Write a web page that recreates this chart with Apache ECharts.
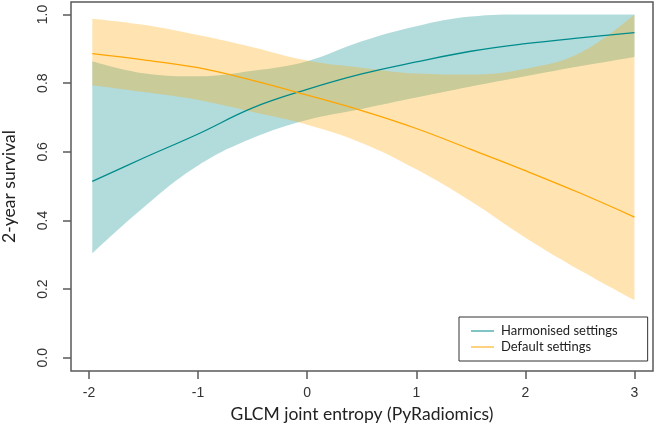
<!DOCTYPE html>
<html>
<head>
<meta charset="utf-8">
<script src="https://cdn.jsdelivr.net/npm/echarts@6/dist/echarts.min.js"></script>
<style>
html,body{margin:0;padding:0;background:#fff;}
#chart{width:657px;height:440px;}
</style>
</head>
<body>
<div id="chart"></div>
<script>
// ---- data ----
var xs = [-1.97, -1.5, -1, -0.5, 0, 0.5, 1, 1.5, 2, 2.5, 3];
var harmFit = [0.514, 0.582, 0.652, 0.728, 0.782, 0.827, 0.862, 0.893, 0.915, 0.932, 0.947];
var harmLow = [0.304, 0.438, 0.560, 0.640, 0.693, 0.725, 0.758, 0.790, 0.820, 0.849, 0.876];
var harmUp  = [0.864, 0.829, 0.820, 0.836, 0.864, 0.922, 0.966, 0.994, 1.000, 1.000, 1.000];
var defFit  = [0.886, 0.868, 0.845, 0.808, 0.765, 0.720, 0.668, 0.607, 0.545, 0.480, 0.410];
var defLow  = [0.794, 0.774, 0.751, 0.716, 0.679, 0.626, 0.549, 0.456, 0.350, 0.255, 0.168];
var defUp   = [0.988, 0.970, 0.940, 0.905, 0.866, 0.845, 0.828, 0.825, 0.842, 0.888, 1.000];
var xTicks = [-2, -1, 0, 1, 2, 3];
var xTickLabels = ['-2', '-1', '0', '1', '2', '3'];
var yTicks = [0, 0.2, 0.4, 0.6, 0.8, 1.0];
var yTickLabels = ['0.0', '0.2', '0.4', '0.6', '0.8', '1.0'];
var seriesNames = ['Harmonised settings', 'Default settings'];

// rows are [y, x] so that stacking happens on the y value (encode maps them back)
function rows(ys) { return xs.map(function (x, i) { return [ys[i], x]; }); }
function diffRows(up, low) { return xs.map(function (x, i) { return [+(up[i] - low[i]).toFixed(4), x]; }); }
function labelFor(ticks, labels) {
  return function (v) {
    for (var i = 0; i < ticks.length; i++) if (Math.abs(ticks[i] - v) < 1e-6) return labels[i];
    return '';
  };
}

var TEAL = '#008b8b', ORANGE = '#ffa500';
var SM = 0.4;
var ENC = {x: 1, y: 0};

var chart = echarts.init(document.getElementById('chart'), null, {renderer: 'canvas'});
chart.setOption({
  animation: false,
  backgroundColor: '#ffffff',
  grid: {left: 71, right: 4, top: 2, bottom: 69, containLabel: false, outerBoundsMode: 'none',
         show: true, borderColor: '#5a5a5a', borderWidth: 1.5, backgroundColor: 'transparent'},
  legend: {
    data: seriesNames,
    orient: 'vertical',
    left: 459, top: 317,
    padding: [7, 30, 7, 12],
    itemGap: 2,
    itemWidth: 23, itemHeight: 14,
    borderColor: '#333', borderWidth: 1,
    backgroundColor: '#fff',
    textStyle: {fontFamily: 'Lato', fontSize: 13, color: '#222', lineHeight: 14, padding: [0, 0, 0, 2]},
    icon: 'path://M0,7 L23,7 L23,8 L0,8 Z'
  },
  xAxis: {
    type: 'value', min: -2.165, max: 3.17,
    name: 'GLCM joint entropy (PyRadiomics)', nameLocation: 'middle', nameGap: 32,
    nameTextStyle: {fontFamily: 'Lato', fontSize: 17.5, color: '#222'},
    axisLine: {show: false, onZero: false},
    axisTick: {show: true, length: 8, customValues: xTicks, lineStyle: {color: '#5a5a5a', width: 1.5}},
    axisLabel: {customValues: xTicks, formatter: labelFor(xTicks, xTickLabels), margin: 15, fontFamily: 'Liberation Sans', fontSize: 14, color: '#333'},
    splitLine: {show: false}
  },
  yAxis: {
    type: 'value', min: -0.0385, max: 1.0365,
    name: '2-year survival', nameLocation: 'middle', nameGap: 53,
    nameTextStyle: {fontFamily: 'Lato', fontSize: 17.5, color: '#222'},
    axisLine: {show: false, onZero: false},
    axisTick: {show: true, length: 8, customValues: yTicks, lineStyle: {color: '#5a5a5a', width: 1.5}},
    axisLabel: {customValues: yTicks, formatter: labelFor(yTicks, yTickLabels), rotate: 90, margin: 21, fontFamily: 'Liberation Sans', fontSize: 14, color: '#333'},
    splitLine: {show: false}
  },
  series: [
    {name: 'hLow', type: 'line', stack: 'harm', encode: ENC, data: rows(harmLow), symbol: 'none', smooth: SM, lineStyle: {opacity: 0}, silent: true},
    {name: 'hBand', type: 'line', stack: 'harm', encode: ENC, data: diffRows(harmUp, harmLow), symbol: 'none', smooth: SM, lineStyle: {opacity: 0}, areaStyle: {color: 'rgba(0,139,139,0.30)', opacity: 1}, silent: true},
    {name: seriesNames[0], type: 'line', encode: ENC, data: rows(harmFit), symbol: 'none', smooth: SM, lineStyle: {color: TEAL, width: 1.3}, itemStyle: {color: TEAL}},
    {name: 'dLow', type: 'line', stack: 'def', encode: ENC, data: rows(defLow), symbol: 'none', smooth: SM, lineStyle: {opacity: 0}, silent: true},
    {name: 'dBand', type: 'line', stack: 'def', encode: ENC, data: diffRows(defUp, defLow), symbol: 'none', smooth: SM, lineStyle: {opacity: 0}, areaStyle: {color: 'rgba(255,165,0,0.30)', opacity: 1}, silent: true},
    {name: seriesNames[1], type: 'line', encode: ENC, data: rows(defFit), symbol: 'none', smooth: SM, lineStyle: {color: ORANGE, width: 1.3}, itemStyle: {color: ORANGE}}
  ]
});
</script>
</body>
</html>
